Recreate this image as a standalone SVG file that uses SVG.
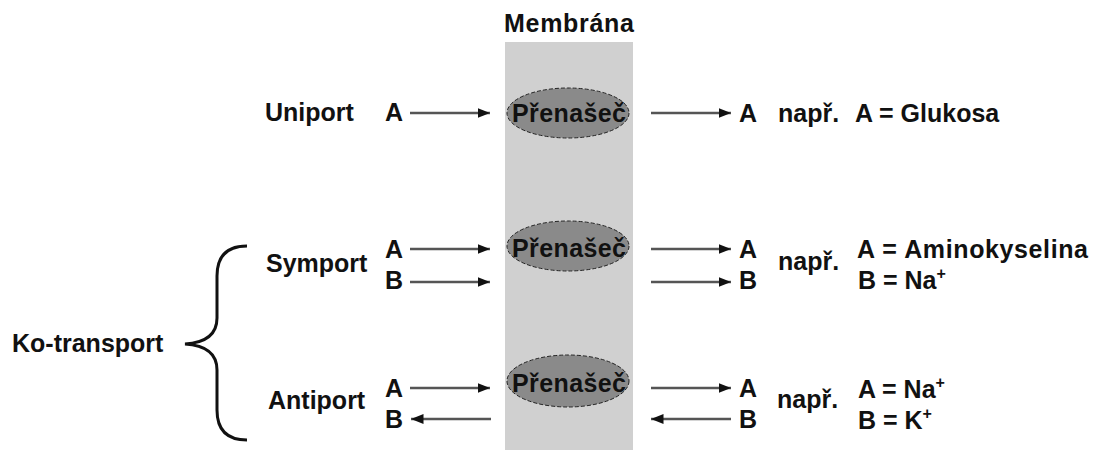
<svg xmlns="http://www.w3.org/2000/svg" width="1095" height="450" viewBox="0 0 1095 450">
<style>
text{font-family:"Liberation Sans",Arial,sans-serif;font-weight:bold;font-size:25px;fill:#111}
.c{text-anchor:middle}
.conn line{stroke:#555;stroke-width:2.5}
.car{fill:#8a8a8a;stroke:#222;stroke-width:1;stroke-dasharray:4 2}
.sup{font-size:16px}
</style>
<defs>
<marker id="ah" viewBox="0 0 10 10" refX="10" refY="5" markerWidth="5" markerHeight="5" orient="auto" markerUnits="strokeWidth">
<path d="M0,1 L10,5 L0,9 Z" fill="#111"/>
</marker>
</defs>
<rect width="1095" height="450" fill="#fff"/>
<g id="membrane">
<rect x="505" y="42" width="128" height="408" fill="#d0d0d0"/>
<text class="c" x="569" y="32" textLength="130">Membrána</text>
</g>
<g id="carrier-uniport">
<ellipse class="car" cx="568" cy="113" rx="61" ry="25"/>
<text class="c" x="569" y="122" textLength="114">Přenašeč</text>
</g>
<g id="carrier-symport">
<ellipse class="car" cx="568" cy="246" rx="61" ry="25"/>
<text class="c" x="569" y="257" textLength="114">Přenašeč</text>
</g>
<g id="carrier-antiport">
<ellipse class="car" cx="568" cy="381" rx="61" ry="26"/>
<text class="c" x="569" y="392" textLength="114">Přenašeč</text>
</g>
<g id="labels-left">
<text x="265" y="121">Uniport</text>
<text x="385" y="121">A</text>
<text x="266" y="272">Symport</text>
<text x="385" y="258">A</text>
<text x="385" y="289">B</text>
<text x="268" y="409">Antiport</text>
<text x="385" y="397">A</text>
<text x="385" y="428">B</text>
<text x="12" y="352">Ko-transport</text>
</g>
<g id="brace">
<path d="M247,246 Q217,246 217,276 L217,318 Q217,342 185,344 Q217,346 217,370 L217,410 Q217,440 247,440" fill="none" stroke="#111" stroke-width="3"/>
</g>
<g id="labels-right">
<text x="739" y="122">A</text>
<text x="778" y="122">např.</text>
<text x="855" y="122">A = Glukosa</text>
<text x="739" y="258">A</text>
<text x="739" y="289">B</text>
<text x="778" y="270">např.</text>
<text x="857" y="258" textLength="231">A = Aminokyselina</text>
<text x="858" y="289">B = Na<tspan class="sup" dy="-10">+</tspan></text>
<text x="739" y="397">A</text>
<text x="739" y="428">B</text>
<text x="777" y="408">např.</text>
<text x="858" y="398">A = Na<tspan class="sup" dy="-10">+</tspan></text>
<text x="858" y="429">B = K<tspan class="sup" dy="-10">+</tspan></text>
</g>
<g class="conn" id="connectors">
<line x1="410" y1="113" x2="490" y2="113" marker-end="url(#ah)"/>
<line x1="651" y1="113" x2="731" y2="113" marker-end="url(#ah)"/>
<line x1="410" y1="249" x2="490" y2="249" marker-end="url(#ah)"/>
<line x1="410" y1="282" x2="490" y2="282" marker-end="url(#ah)"/>
<line x1="651" y1="249" x2="731" y2="249" marker-end="url(#ah)"/>
<line x1="651" y1="282" x2="731" y2="282" marker-end="url(#ah)"/>
<line x1="410" y1="388" x2="490" y2="388" marker-end="url(#ah)"/>
<line x1="491" y1="419" x2="411" y2="419" marker-end="url(#ah)"/>
<line x1="651" y1="388" x2="731" y2="388" marker-end="url(#ah)"/>
<line x1="731" y1="419" x2="651" y2="419" marker-end="url(#ah)"/>
</g>
</svg>
